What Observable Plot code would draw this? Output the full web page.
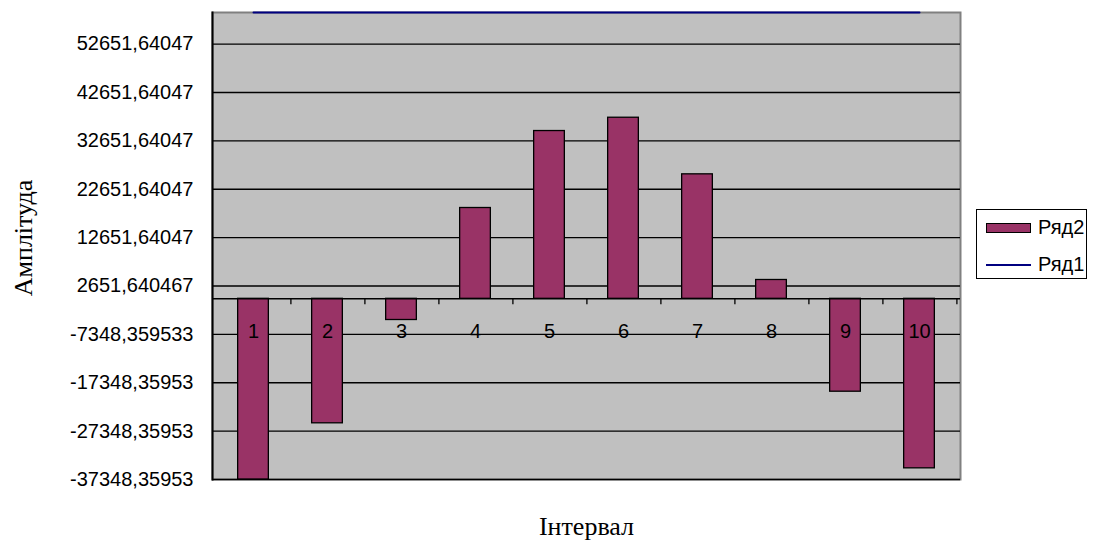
<!DOCTYPE html>
<html>
<head>
<meta charset="utf-8">
<script src="https://cdn.jsdelivr.net/npm/d3@7"></script>
<script src="https://cdn.jsdelivr.net/npm/@observablehq/plot@0.6"></script>
<style>
  html, body { margin: 0; padding: 0; background: #fff; }
  #wrap { position: relative; width: 1093px; height: 540px; }
  #legend { position: absolute; left: 976px; top: 209px; width: 109px; height: 68px;
    border: 1px solid #000; background: #fff; font-family: "Liberation Sans", Arial, sans-serif; font-size: 20px; }
  .row { position: absolute; left: 9px; display: flex; align-items: center; }
  .sw { width: 43px; height: 8px; background: #993366; border: 1px solid #000; margin-right: 7px; }
  .ln { width: 45px; height: 2px; background: #000080; margin-right: 7px; }
</style>
</head>
<body>
<div id="wrap">
  <div id="chart"></div>
  <div id="legend">
    <div class="row" style="top:6px"><div class="sw"></div><span>Ряд2</span></div>
    <div class="row" style="top:43px"><div class="ln"></div><span>Ряд1</span></div>
  </div>
</div>
<script>
const categories = ["1","2","3","4","5","6","7","8","9","10"];
const ryad2 = [-37348.35953, -25734, -4380, 18770, 34680, 37430, 25730, 3890, -19200, -35040];
const ryad1 = [59180, 59180, 59180, 59180, 59180, 59180, 59180, 59180, 59180, 59180];
const tickValues = [-37348.35953, -27348.35953, -17348.35953, -7348.359533, 2651.640467,
  12651.64047, 22651.64047, 32651.64047, 42651.64047, 52651.64047];
const tickLabels = ["-37348,35953", "-27348,35953", "-17348,35953", "-7348,359533", "2651,640467",
  "12651,64047", "22651,64047", "32651,64047", "42651,64047", "52651,64047"];

const sans = "Liberation Sans, Arial, sans-serif";
const serif = "Liberation Serif, Times New Roman, serif";
const W = 1093, H = 540, mL = 212, mR = 133, mT = 12, mB = 61;
const step = (W - mL - mR) / categories.length;
const barInset = (step - 31.5) / 2;

const chart = Plot.plot({
  width: W, height: H,
  marginLeft: mL, marginRight: mR, marginTop: mT, marginBottom: mB,
  style: { background: "white", fontFamily: sans },
  x: { type: "band", domain: categories, padding: 0, axis: null },
  y: { domain: [tickValues[0], Math.max(...ryad1)], axis: null },
  marks: [
    Plot.frame({ fill: "#C0C0C0" }),
    Plot.frame({ stroke: "#808080", strokeWidth: 2 }),
    Plot.ruleY(tickValues, { stroke: "black", strokeWidth: 1.4 }),
    Plot.axisY({
      ticks: tickValues,
      tickFormat: d => tickLabels[tickValues.indexOf(d)],
      tickSize: 7, tickPadding: 12, fontSize: 20, fontFamily: sans, fill: "black", stroke: null
    }),
    Plot.barY(categories, {
      x: d => d, y: (d, i) => ryad2[i],
      fill: "#993366", stroke: "black", strokeWidth: 1.3,
      insetLeft: barInset, insetRight: barInset
    }),
    Plot.ruleY([0], { stroke: "black", strokeWidth: 1.5 }),
    Plot.ruleX(categories, { x: d => d, y1: 0, y2: 0, dx: step / 2, insetBottom: -6, stroke: "black", strokeWidth: 1.3 }),
    Plot.text(categories, { x: d => d, y: 0, dy: 33, text: d => d, fontSize: 20, fontFamily: sans, fill: "black" }),
    Plot.lineY(categories, { x: d => d, y: (d, i) => ryad1[i], stroke: "#000080", strokeWidth: 2 }),
    Plot.frame({ anchor: "left", stroke: "black", strokeWidth: 2 }),
    Plot.text(["Амплітуда"], { frameAnchor: "left", dx: -189, dy: -8, rotate: -90, textAnchor: "middle", lineAnchor: "middle", fontSize: 26, fontFamily: serif, fill: "black" }),
    Plot.text(["Інтервал"], { frameAnchor: "bottom", dy: 47, textAnchor: "middle", lineAnchor: "middle", fontSize: 26, fontFamily: serif, fill: "black" })
  ]
});
document.getElementById("chart").appendChild(chart);
</script>
</body>
</html>
